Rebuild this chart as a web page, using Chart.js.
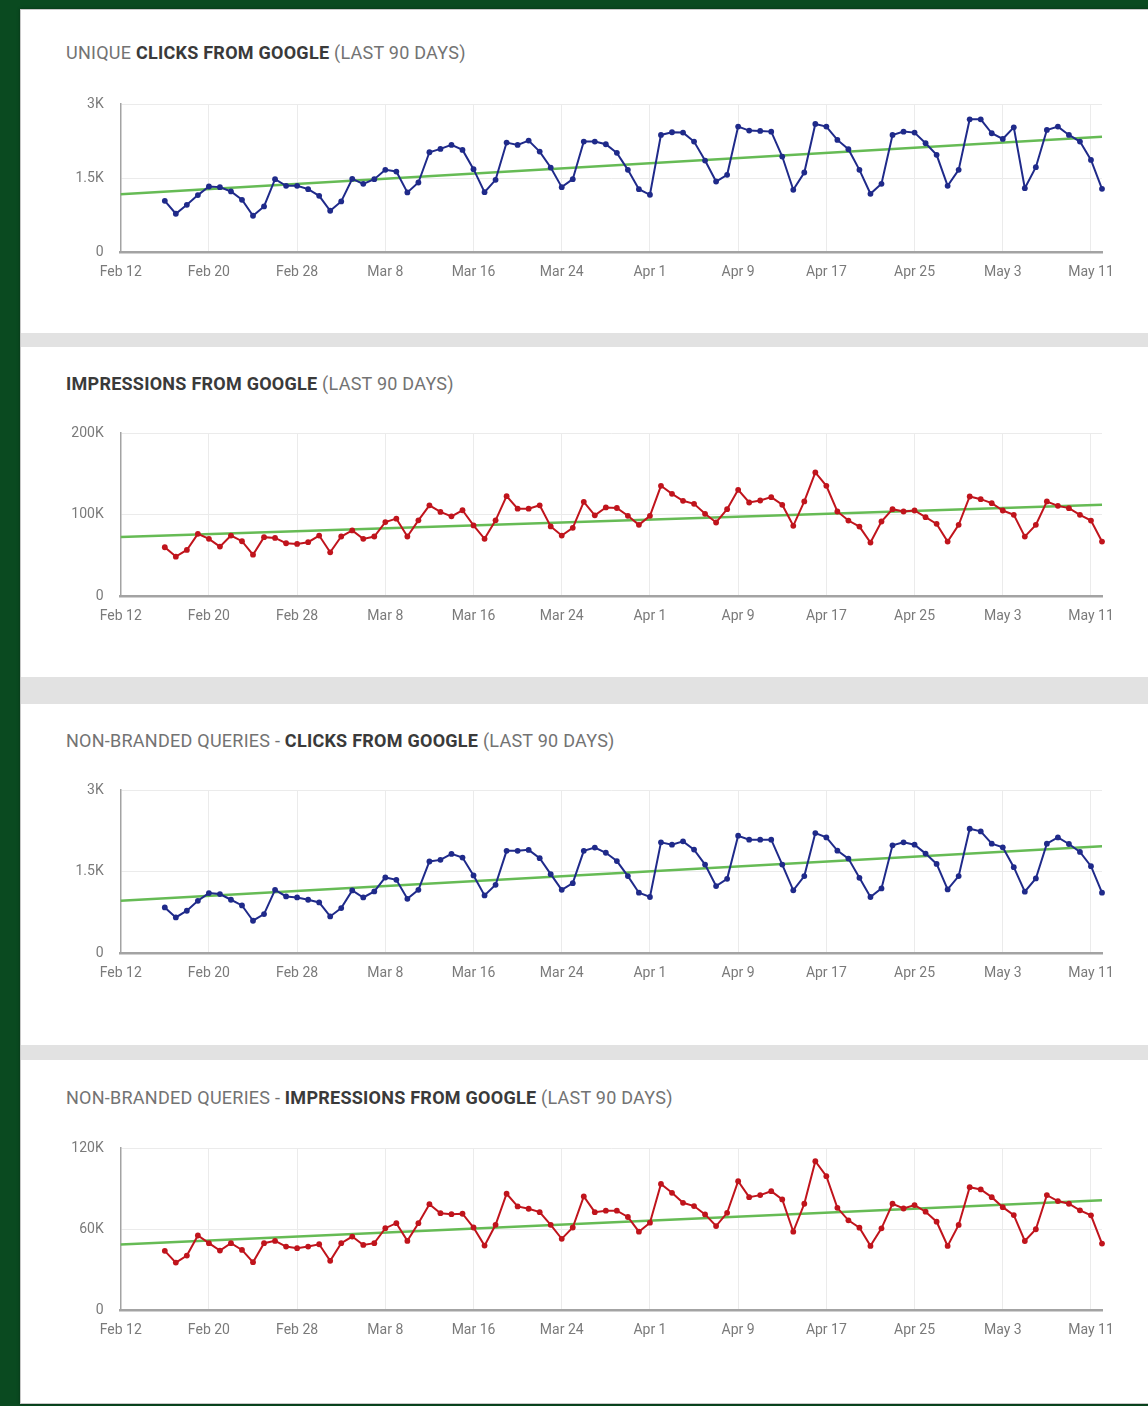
<!DOCTYPE html>
<html><head><meta charset="utf-8">
<script src="https://cdn.jsdelivr.net/npm/chart.js@4/dist/chart.umd.min.js"></script>
<style>
html,body{margin:0;padding:0;}
body{width:1148px;height:1406px;background:#0a4a20;position:relative;overflow:hidden;font-family:Roboto,"Noto Sans",sans-serif;}
#card{position:absolute;left:20px;top:9px;width:1140px;height:1393px;background:#fff;border:1px solid #c8c8c8;box-shadow:0 0 3px rgba(0,0,0,0.35);}
.band{position:absolute;left:21px;width:1140px;background:#e2e2e2;}
.title{position:absolute;left:66px;font-size:18px;line-height:22px;color:#737373;white-space:nowrap;letter-spacing:0.25px;}
.title b{color:#3a3a3a;font-weight:700;}
canvas{position:absolute;left:40px;}
</style></head>
<body>
<div id="card"></div>
<div class="band" style="top:333px;height:14px"></div>
<div class="band" style="top:677px;height:27px"></div>
<div class="band" style="top:1045px;height:15px"></div>
<div class="title" style="top:42px">UNIQUE <b>CLICKS FROM GOOGLE</b> (LAST 90 DAYS)</div>
<div class="title" style="top:373px"><b>IMPRESSIONS FROM GOOGLE</b> (LAST 90 DAYS)</div>
<div class="title" style="top:730px">NON-BRANDED QUERIES - <b>CLICKS FROM GOOGLE</b> (LAST 90 DAYS)</div>
<div class="title" style="top:1087px">NON-BRANDED QUERIES - <b>IMPRESSIONS FROM GOOGLE</b> (LAST 90 DAYS)</div>
<canvas id="c1" width="1100" height="218" style="top:74px"></canvas>
<canvas id="c2" width="1100" height="233" style="top:403px"></canvas>
<canvas id="c3" width="1100" height="233" style="top:760px"></canvas>
<canvas id="c4" width="1100" height="232" style="top:1118px"></canvas>
<script>
// x axis: day offsets from Feb 12 (0) to May 12 (89)
const xTickDays = [0, 8, 16, 24, 32, 40, 48, 56, 64, 72, 80, 88];
const xTickLabels = ["Feb 12","Feb 20","Feb 28","Mar 8","Mar 16","Mar 24","Apr 1","Apr 9","Apr 17","Apr 25","May 3","May 11"];
const firstDay = 4;   // Feb 16
const lastDay = 89;   // May 12

const clicks = [1038,775,957,1153,1328,1315,1227,1058,735,924,
  1476,1342,1342,1274,1139,836,1025,1483,1382,1476,
  1665,1631,1207,1409,2022,2090,2171,2070,1679,1213,
  1463,2218,2171,2258,2036,1712,1315,1476,2238,2238,
  2184,2010,1665,1274,1160,2373,2427,2420,2238,1854,
  1429,1564,2542,2461,2454,2440,1935,1261,1611,2596,
  2542,2272,2083,1665,1180,1382,2373,2440,2420,2204,
  1969,1342,1665,2690,2690,2407,2292,2528,1294,1719,
  2474,2542,2373,2238,1867,1281];
const clicksTrend = [1170, 2335];

const impressions = [59800,48300,56500,76300,70100,60600,74200,67200,50700,72200,
  71300,64700,63900,66000,74200,53600,73000,80400,70100,73000,
  90700,94900,73000,92800,111300,103100,97700,105200,86600,70100,
  92800,122500,107200,107200,111300,85400,74200,83700,115500,99000,
  108700,108000,98400,87300,98400,135200,125400,116800,113100,100800,
  90200,106500,130300,114700,117200,121300,111900,86100,116000,151600,
  135200,103700,92600,85200,65600,91400,106500,103700,104900,96700,
  88500,66800,87300,122100,118800,113900,104900,99600,72900,87300,
  116000,110600,107800,99600,92600,66800];
const impressionsTrend = [72500, 112000];

const nbClicks = [839,655,778,961,1102,1084,980,875,594,716,
  1163,1041,1022,980,931,673,826,1151,1022,1133,
  1390,1347,998,1163,1684,1714,1824,1757,1427,1059,
  1255,1880,1880,1898,1745,1451,1163,1286,1880,1941,
  1845,1692,1415,1110,1031,2037,1994,2055,1903,1628,
  1232,1366,2159,2085,2085,2085,1628,1153,1415,2207,
  2128,1884,1738,1384,1031,1189,1982,2037,1994,1829,
  1640,1171,1415,2287,2238,2012,1945,1579,1128,1372,
  2012,2128,2006,1860,1598,1110];
const nbClicksTrend = [960, 1965];

const nbImpressions = [43800,35100,40300,55200,49500,44000,49500,44500,35400,49500,
  51200,47000,45800,47000,48700,36400,49500,54400,48200,49500,
  60600,64300,51200,64300,78400,71700,71000,71300,61100,47700,
  63100,86100,76700,75000,72500,63100,52700,61100,84100,72500,
  73600,73600,68900,58000,64700,93400,86800,79400,77000,70800,
  62200,72000,95400,83600,85100,88000,81900,58000,78700,110200,
  99100,75700,66400,61000,47500,60500,78700,75200,77700,72800,
  65400,47500,63000,91000,89300,83600,76200,70300,51100,59800,
  85100,80700,78700,73800,70100,49200];
const nbImpressionsTrend = [48500, 81300];

const yTicksClicks = [0, 1500, 3000];
const yLabelsClicks = ["0", "1.5K", "3K"];
const yTicksImpr = [0, 100000, 200000];
const yLabelsImpr = ["0", "100K", "200K"];
const yTicksNbImpr = [0, 60000, 120000];
const yLabelsNbImpr = ["0", "60K", "120K"];

const BLUE = '#1f2a8a';
const RED = '#c0141c';
const GREEN = '#66bb55';

function build(id, values, trend, yTicks, yLabels, color) {
  const pts = values.map((v, i) => ({x: firstDay + i, y: v}));
  new Chart(document.getElementById(id), {
    type: 'line',
    data: {datasets: [
      {data: [{x: 0, y: trend[0]}, {x: lastDay, y: trend[1]}], borderColor: GREEN, borderWidth: 2.5, pointRadius: 0, order: 2, clip: false},
      {data: pts, borderColor: color, backgroundColor: color, borderWidth: 2, pointRadius: 2.9, pointBorderWidth: 0, tension: 0, order: 1, clip: false}
    ]},
    options: {
      responsive: false, animation: false,
      layout: {padding: {top: 30, right: 38, bottom: 10, left: 0}},
      plugins: {legend: {display: false}, tooltip: {enabled: false}},
      events: [],
      scales: {
        x: {type: 'linear', min: 0, max: lastDay,
          afterBuildTicks: s => { s.ticks = xTickDays.map(v => ({value: v})); },
          afterFit: s => { s.height = 30; },
          grid: {color: '#ebebeb', drawTicks: false},
          border: {color: '#a3a3a3', width: 2.5},
          ticks: {padding: 12, maxRotation: 0, autoSkip: false, color: '#7a7a7a',
            font: {family: 'Roboto', size: 14}, callback: (v, i) => xTickLabels[i]}},
        y: {min: yTicks[0], max: yTicks[yTicks.length - 1],
          afterBuildTicks: s => { s.ticks = yTicks.map(v => ({value: v})); },
          afterFit: s => { s.width = 80.7; },
          grid: {color: '#ebebeb', drawTicks: false},
          border: {color: '#a3a3a3', width: 1.5},
          ticks: {padding: 17, color: '#7a7a7a', font: {family: 'Roboto', size: 14},
            callback: (v, i) => yLabels[i]}}
      }
    }
  });
}
build('c1', clicks, clicksTrend, yTicksClicks, yLabelsClicks, BLUE);
build('c2', impressions, impressionsTrend, yTicksImpr, yLabelsImpr, RED);
build('c3', nbClicks, nbClicksTrend, yTicksClicks, yLabelsClicks, BLUE);
build('c4', nbImpressions, nbImpressionsTrend, yTicksNbImpr, yLabelsNbImpr, RED);
</script>
</body></html>
